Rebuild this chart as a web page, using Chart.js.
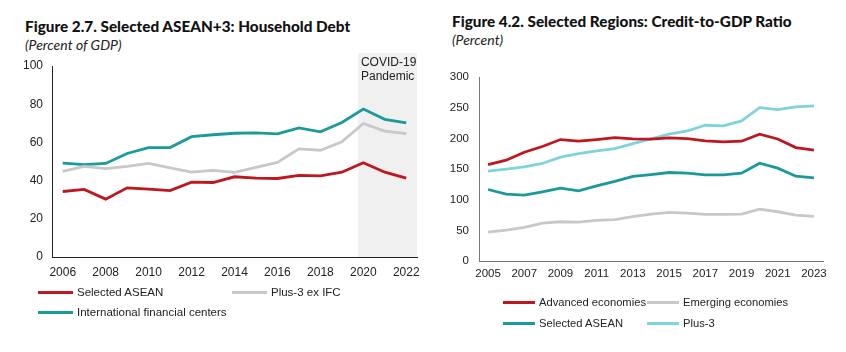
<!DOCTYPE html>
<html>
<head>
<meta charset="utf-8">
<script src="https://cdn.jsdelivr.net/npm/chart.js@4"></script>
<style>
  html, body { margin:0; padding:0; background:#fff; }
  body { width:846px; height:352px; position:relative; overflow:hidden; font-family:"Liberation Sans", Arial, sans-serif; }
  .title { position:absolute; font-family:"Lato", "Open Sans", sans-serif; font-weight:900; font-size:15.3px; color:#111; white-space:nowrap; line-height:20px; }
  .sub { position:absolute; font-family:"Lato", "Open Sans", sans-serif; font-style:italic; font-size:14px; color:#222; white-space:nowrap; line-height:18px; }
  canvas { position:absolute; }
  .leg { position:absolute; display:flex; align-items:center; font-size:11.5px; color:#222; white-space:nowrap; height:16px; }
  .leg span.sw { display:inline-block; height:3px; margin-right:4px; }
</style>
</head>
<body>
<div class="title" style="left:25px;top:16px;">Figure 2.7. Selected ASEAN+3: Household Debt</div>
<div class="sub" style="left:25px;top:36px;">(Percent of GDP)</div>
<div class="title" style="left:452px;top:11px;">Figure 4.2. Selected Regions: Credit-to-GDP Ratio</div>
<div class="sub" style="left:452px;top:31px;">(Percent)</div>

<div style="position:absolute;left:0;top:0;width:430px;height:285px;"><canvas id="c1"></canvas></div>
<div style="position:absolute;left:430px;top:0;width:416px;height:290px;"><canvas id="c2"></canvas></div>

<div id="leg1"></div>
<div id="leg2"></div>

<script>
// ---------- Figure 2.7 data ----------
const years1 = ["2006","2007","2008","2009","2010","2011","2012","2013","2014","2015","2016","2017","2018","2019","2020","2021","2022"];
const selectedAsean1 = [34.3,35.4,30.3,36.2,35.5,34.8,39.2,39.0,42.0,41.3,41.1,42.7,42.5,44.4,49.3,44.4,41.3];
const plus3exIFC    = [44.8,47.4,46.3,47.4,49.0,46.7,44.4,45.3,44.3,46.9,49.5,56.6,55.9,60.3,69.9,65.9,64.6];
const intlFinCenters = [49.1,48.4,49.0,54.2,57.3,57.3,63.0,64.0,64.8,65.0,64.5,67.6,65.5,70.4,77.5,72.1,70.2];
const yTicks1 = [0,20,40,60,80,100];
const covidLabel = ["COVID-19","Pandemic"];
const covidStartIndex = 13.75;

// ---------- Figure 4.2 data ----------
const years2 = ["2005","2006","2007","2008","2009","2010","2011","2012","2013","2014","2015","2016","2017","2018","2019","2020","2021","2022","2023"];
const advanced  = [157.3,164.4,177.4,186.6,198.0,195.3,198.0,201.3,199.0,198.6,200.7,199.6,195.8,194.2,195.3,206.7,199.0,185.0,180.7];
const emerging  = [47.2,50.5,54.8,61.8,64.0,63.5,66.2,67.3,72.2,76.5,79.2,78.1,76.0,76.0,76.5,84.6,80.3,74.9,72.7];
const selectedAsean2 = [116.6,109.0,107.4,112.8,118.8,114.5,122.6,129.7,137.8,141.0,144.3,143.2,140.5,140.5,143.2,159.5,151.4,138.3,135.6];
const plus3     = [146.5,149.7,153.5,159.0,169.3,175.2,179.6,183.4,191.5,199.0,206.7,212.0,221.3,220.3,228.4,250.0,246.8,251.2,252.8];
const yTicks2 = [0,50,100,150,200,250,300];

const RED = "#C0161E", GRAY = "#C8C8C8", TEAL = "#1A9A9A", CYAN = "#7ED3DC";

function ds(label, data, color) {
  return { label, data, borderColor: color, backgroundColor: color, borderWidth: 2.8, pointRadius: 0, tension: 0, fill: false };
}

const shadePlugin = {
  id: "covidShade",
  beforeDatasetsDraw(chart) {
    const x = chart.scales.x, a = chart.chartArea, ctx = chart.ctx;
    const i0 = Math.floor(covidStartIndex);
    const left = x.getPixelForValue(i0) + (covidStartIndex - i0) * (x.getPixelForValue(i0 + 1) - x.getPixelForValue(i0));
    ctx.save();
    ctx.fillStyle = "#F0F0F0";
    ctx.fillRect(left, a.top - 13, a.right - left, a.bottom - a.top + 13);
    ctx.fillStyle = "#222";
    ctx.font = "12px 'Liberation Sans', Arial, sans-serif";
    ctx.textBaseline = "middle";
    ctx.fillText(covidLabel[0], left + 3, a.top - 3);
    ctx.fillText(covidLabel[1], left + 3, a.top + 11);
    ctx.restore();
  }
};

const tickFont = { family: "'Liberation Sans', Arial, sans-serif", size: 12 };

new Chart(document.getElementById("c1"), {
  type: "line",
  data: { labels: years1, datasets: [ds("Selected ASEAN", selectedAsean1, RED), ds("Plus-3 ex IFC", plus3exIFC, GRAY), ds("International financial centers", intlFinCenters, TEAL)] },
  options: {
    responsive: true, maintainAspectRatio: false, animation: false,
    layout: { padding: { left: 0, top: 66, right: 13, bottom: 0 } },
    plugins: { legend: { display: false }, tooltip: { enabled: false } },
    scales: {
      x: {
        offset: true,
        grid: { display: false, drawTicks: false },
        border: { display: true, color: "#222", width: 1 },
        ticks: { color: "#222", font: tickFont, padding: 8, autoSkip: false, maxRotation: 0,
                 callback: function(v, i) { return i % 2 === 0 ? years1[i] : ""; } },
        afterFit(s) { s.height = 28; }
      },
      y: {
        min: 0, max: 100,
        afterBuildTicks(s) { s.ticks = yTicks1.map(v => ({ value: v })); },
        grid: { display: false, drawTicks: false },
        border: { display: true, color: "#222", width: 1 },
        ticks: { color: "#222", font: tickFont, padding: 9 },
        afterFit(s) { s.width = 52; }
      }
    }
  },
  plugins: [shadePlugin]
});

new Chart(document.getElementById("c2"), {
  type: "line",
  data: { labels: years2, datasets: [ds("Advanced economies", advanced, RED), ds("Emerging economies", emerging, GRAY), ds("Selected ASEAN", selectedAsean2, TEAL), ds("Plus-3", plus3, CYAN)] },
  options: {
    responsive: true, maintainAspectRatio: false, animation: false,
    layout: { padding: { left: 0, top: 77, right: 23, bottom: 0 } },
    plugins: { legend: { display: false }, tooltip: { enabled: false } },
    scales: {
      x: {
        offset: true,
        grid: { display: false, drawTicks: false },
        border: { display: true, color: "#777", width: 1 },
        ticks: { color: "#222", font: { ...tickFont, size: 11.5 }, padding: 6, autoSkip: false, maxRotation: 0,
                 callback: function(v, i) { return i % 2 === 0 ? years2[i] : ""; } },
        afterFit(s) { s.height = 29; }
      },
      y: {
        min: 0, max: 300,
        afterBuildTicks(s) { s.ticks = yTicks2.map(v => ({ value: v })); },
        grid: { display: false, drawTicks: false },
        border: { display: true, color: "#777", width: 1 },
        ticks: { color: "#222", font: { ...tickFont, size: 11.5 }, padding: 10 },
        afterFit(s) { s.width = 49; }
      }
    }
  }
});

// HTML legends
function addLeg(containerId, items) {
  const c = document.getElementById(containerId);
  items.forEach(it => {
    const d = document.createElement("div");
    d.className = "leg";
    d.style.left = it.x + "px";
    d.style.top = (it.y - 8) + "px";
    if (it.fs) d.style.fontSize = it.fs + "px";
    const sw = document.createElement("span");
    sw.className = "sw";
    sw.style.width = it.w + "px";
    sw.style.background = it.color;
    d.appendChild(sw);
    d.appendChild(document.createTextNode(it.label));
    c.appendChild(d);
  });
}
addLeg("leg1", [
  { label: "Selected ASEAN", color: RED, x: 38, y: 292, w: 35 },
  { label: "Plus-3 ex IFC", color: GRAY, x: 232, y: 292, w: 35 },
  { label: "International financial centers", color: TEAL, x: 38, y: 312, w: 35 }
]);
addLeg("leg2", [
  { label: "Advanced economies", color: RED, x: 503, y: 302, w: 32, fs: 11.2 },
  { label: "Emerging economies", color: GRAY, x: 647, y: 302, w: 32, fs: 11.2 },
  { label: "Selected ASEAN", color: TEAL, x: 503, y: 323, w: 32, fs: 11.2 },
  { label: "Plus-3", color: CYAN, x: 647, y: 323, w: 32, fs: 11.2 }
]);
</script>
</body>
</html>
